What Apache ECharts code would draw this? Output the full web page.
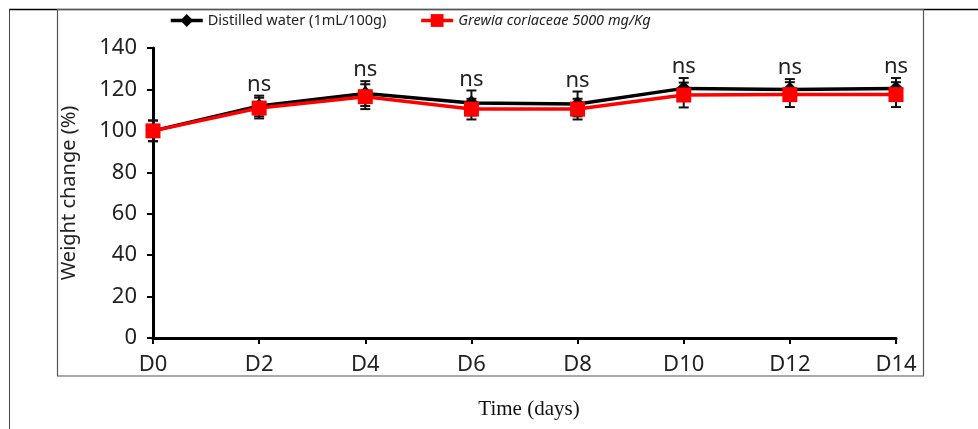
<!DOCTYPE html>
<html>
<head>
<meta charset="utf-8">
<script src="https://cdn.jsdelivr.net/npm/echarts@6/dist/echarts.min.js"></script>
<style>
html,body{margin:0;padding:0;background:#fff;}
#c{width:978px;height:429px;}
</style>
</head>
<body>
<div id="c"></div>
<script>
var categories = ['D0','D2','D4','D6','D8','D10','D12','D14'];
var waterValues = [100,112,118,113.5,113,120.5,120,120.5];
var waterErr = [5,5,6,6,6,5,5,5];
var grewiaValues = [100,111,116.5,110.5,110.5,117.3,117.5,117.5];
var grewiaErr = [5,5,6,5,5,6,6,6];
var sigLabels = ['','ns','ns','ns','ns','ns','ns','ns'];
var yTicks = [0,20,40,60,80,100,120,140];

var chart = echarts.init(document.getElementById('c'));

function errSeries(vals, errs, name) {
  var data = vals.map(function(v,i){ return [i, v - errs[i], v + errs[i]]; });
  return {
    type: 'custom',
    name: name + '_err',
    z: 1,
    silent: true,
    renderItem: function(params, api) {
      var x = api.value(0);
      var lo = api.coord([x, api.value(1)]);
      var hi = api.coord([x, api.value(2)]);
      var w = 5;
      var st = {stroke: '#111', lineWidth: 2};
      return {type: 'group', children: [
        {type:'line', shape:{x1:lo[0],y1:lo[1],x2:hi[0],y2:hi[1]}, style:st},
        {type:'line', shape:{x1:lo[0]-w,y1:lo[1],x2:lo[0]+w,y2:lo[1]}, style:st},
        {type:'line', shape:{x1:hi[0]-w,y1:hi[1],x2:hi[0]+w,y2:hi[1]}, style:st}
      ]};
    },
    data: data
  };
}

var sigData = categories.map(function(c,i){ return [i, waterValues[i] + waterErr[i], sigLabels[i]]; });

chart.setOption({
  animation: false,
  grid: {left: 153, right: 82, top: 48, bottom: 91, containLabel: false},
  legend: {
    left: 169, top: 13, padding: 0, itemWidth: 32, itemHeight: 16, itemGap: 33,
    lineStyle: {width: 3.5},
    textStyle: {fontFamily: "'Noto Sans',sans-serif", fontSize: 14.5, color: '#222'},
    data: [
      {name: 'Distilled water (1mL/100g)'},
      {name: 'Grewia coriaceae 5000 mg/Kg', textStyle: {fontStyle: 'italic'}}
    ]
  },
  xAxis: {
    type: 'category', data: categories, boundaryGap: false,
    axisLine: {lineStyle: {color: '#000', width: 3}},
    axisTick: {alignWithLabel: true, length: 6, lineStyle: {color:'#000', width: 2}},
    axisLabel: {fontFamily: "'Noto Sans',sans-serif", fontSize: 22, color: '#222', margin: 16},
    splitLine: {show: false}
  },
  yAxis: {
    type: 'value', min: 0, max: 140, interval: 20,
    name: 'Weight change (%)', nameLocation: 'middle', nameGap: 74, nameRotate: 90,
    nameTextStyle: {fontFamily: "'Noto Sans',sans-serif", fontSize: 20, color: '#222'},
    axisLine: {show: true, lineStyle: {color: '#000', width: 3}},
    axisTick: {show: true, length: 6, lineStyle: {color:'#000', width: 2}},
    axisLabel: {fontFamily: "'Noto Sans',sans-serif", fontSize: 22, color: '#222', margin: 16,
      formatter: function(v){ return yTicks.indexOf(v) >= 0 ? String(v) : ''; }},
    splitLine: {show: false}
  },
  series: [
    errSeries(waterValues, waterErr, 'w'),
    errSeries(grewiaValues, grewiaErr, 'g'),
    {
      name: 'Distilled water (1mL/100g)', type: 'line', data: waterValues, z: 3,
      symbol: 'diamond', symbolSize: 15,
      lineStyle: {color: '#000', width: 3.5}, itemStyle: {color: '#000'}
    },
    {
      name: 'Grewia coriaceae 5000 mg/Kg', type: 'line', data: grewiaValues, z: 4,
      symbol: 'rect', symbolSize: 15,
      lineStyle: {color: '#ff0000', width: 3.5}, itemStyle: {color: '#ff0000'}
    },
    {
      type: 'custom', name: 'sig', z: 5, silent: true,
      renderItem: function(params, api) {
        var p = api.coord([api.value(0), api.value(1)]);
        return {type: 'text', x: p[0], y: p[1] - 11,
          style: {text: sigLabels[params.dataIndex], fontFamily: "'Noto Sans',sans-serif", fontSize: 22,
            fill: '#222', align: 'center', verticalAlign: 'middle'}};
      },
      data: sigData
    }
  ],
  graphic: [
    {type:'line', shape:{x1:9, y1:9.5, x2:978, y2:9.5}, style:{stroke:'#000', lineWidth:1.5}, silent:true},
    {type:'line', shape:{x1:9.5, y1:9, x2:9.5, y2:429}, style:{stroke:'#444', lineWidth:1}, silent:true},
    {type:'rect', shape:{x:57.5, y:9.5, width:866, height:366.5}, style:{fill:'none', stroke:'#555', lineWidth:1.2}, silent:true},
    {type:'text', x: 529, y: 409, style:{text:'Time (days)', fontFamily:"'Liberation Serif','Times New Roman',serif", fontSize:21, fill:'#111', align:'center', verticalAlign:'middle'}, silent:true}
  ]
});
</script>
</body>
</html>
